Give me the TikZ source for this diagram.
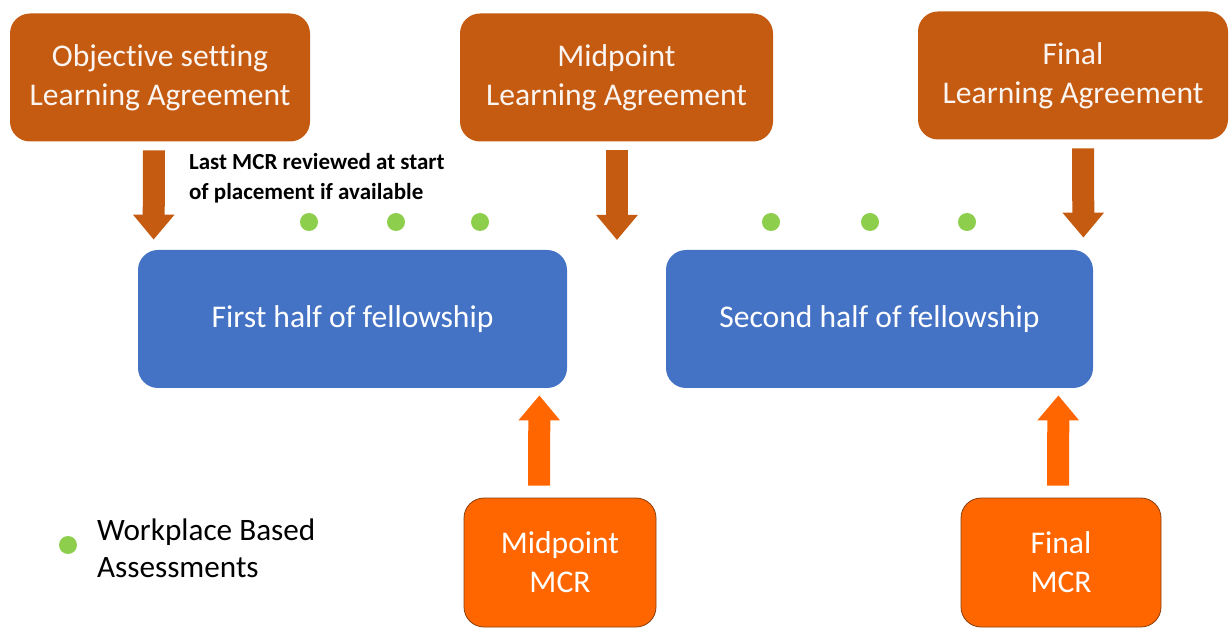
\documentclass[tikz,border=0pt]{standalone}
\usepackage{fontspec}
\setmainfont[Ligatures=NoCommon]{Carlito}
\usepackage{tikz}
\usetikzlibrary{positioning,arrows.meta,calc}
\definecolor{rust}{HTML}{C55A11}
\definecolor{fellowblue}{HTML}{4472C4}
\definecolor{mcrorange}{HTML}{FF6600}
\definecolor{wbagreen}{HTML}{8DCF4C}
\tikzstyle{la}=[%
      rectangle, rounded corners=10pt, draw=none, fill=rust, text=white!94!rust,
      minimum height=64pt, align=center, font=\fontsize{15.8}{19.5}\selectfont
]
\tikzstyle{half}=[%
      rectangle, rounded corners=10pt, draw=none, fill=fellowblue, text=white,
      minimum height=69pt, align=center, font=\fontsize{15.8}{19.5}\selectfont
]
\tikzstyle{mcr}=[%
      rectangle, rounded corners=10pt, draw=rust!70!black, line width=0.4pt, fill=mcrorange, text=white,
      minimum width=96pt, minimum height=64.5pt, align=center, font=\fontsize{15.8}{19.5}\selectfont
]
\tikzstyle{wba}=[circle, fill=wbagreen, minimum size=9pt, inner sep=0pt]
\tikzstyle{down}=[draw=rust, line width=11pt, -{Triangle[width=20pt,length=12.5pt]}]
\tikzstyle{up}=[draw=mcrorange, line width=11pt, -{Triangle[width=20pt,length=12.5pt]}]

\begin{document}
\begin{tikzpicture}[x=0.5pt, y=-0.5pt]
    \useasboundingbox (0,0) rectangle (1231,630);

    \node[la, minimum width=150pt]   (obj)      at (160,77.5)    {Objective setting\\Learning Agreement};
    \node[la, minimum width=156.5pt] (midla)    at (616.5,77.5)  {Midpoint\\Learning Agreement};
    \node[la, minimum width=155pt]   (finalla)  at (1073,75.5)   {Final\\Learning Agreement};

    \node[half, minimum width=214.5pt] (first)  at (352.5,319) {First half of fellowship};
    \node[half, minimum width=213.5pt] (second) at (879.5,319) {Second half of fellowship};

    \node[mcr] (midmcr)   at (560,562.5)  {Midpoint\\MCR};
    \node[mcr, minimum width=100pt] (finalmcr) at (1061,562.5) {Final\\MCR};

    \node[anchor=west, align=left, font=\fontsize{11.5}{15}\selectfont\bfseries] (note) at (182,178)
          {Last MCR reviewed at start\\of placement if available};

    % workplace based assessments
    \foreach \x [count=\i] in {309,396,480,771,870,967}
        \node[wba] (w\i) at (\x,222) {};
    \node[wba] (key) at (68,545) {};
    \node[anchor=west, align=left, font=\fontsize{15.6}{18.5}\selectfont] (keytext) at (90,548)
          {Workplace Based\\Assessments};

    \coordinate (gap) at (617,240);
    \draw[down] ($(obj.south)+(-6,8.5)$) -- ($(first.north west)+(16,-10)$);
    \draw[down] ($(midla.south)+(0.5,8.5)$) -- (gap);
    \draw[down] ($(finalla.south)+(10,8.5)$) -- ($(second.north east)+(-10,-12)$);

    \draw[up] ($(midmcr.north)+(-21,-12)$) -- ($(first.south east)+(-28,7)$);
    \draw[up] ($(finalmcr.north)+(-3,-12)$) -- ($(second.south east)+(-35,7)$);
\end{tikzpicture}
\end{document}
